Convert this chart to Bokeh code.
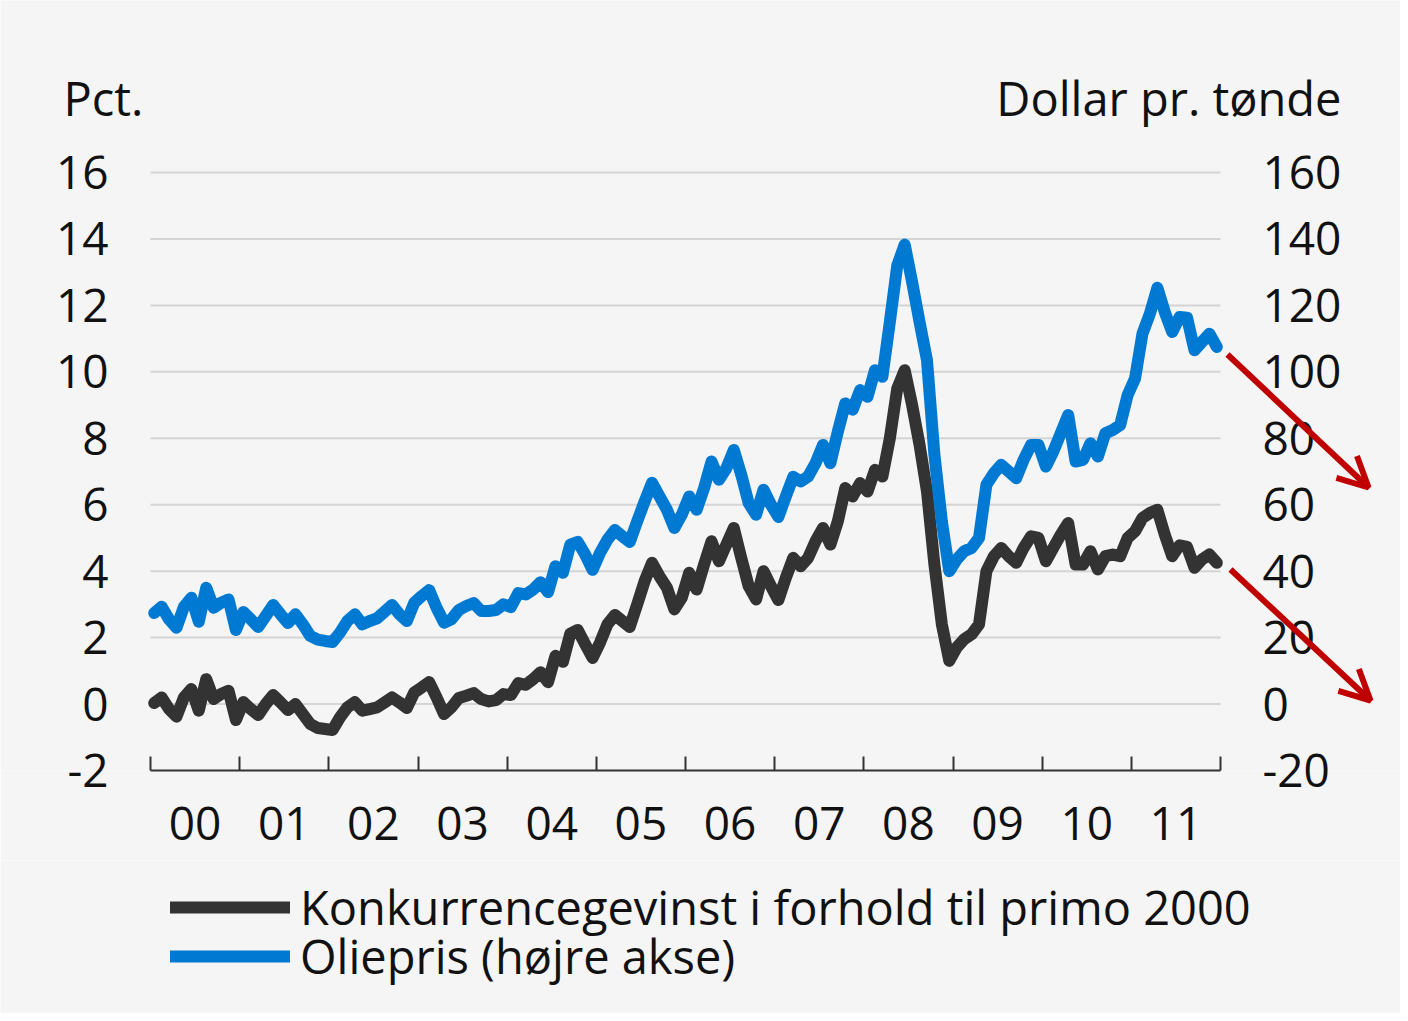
from bokeh.plotting import figure
from bokeh.layouts import column
from bokeh.models import (Range1d, LinearAxis, FixedTicker, Legend, LegendItem,
                          Label, Arrow, OpenHead)
from bokeh.embed import file_html
from bokeh.resources import INLINE

# ---- data (monthly, Jan 2000 - Dec 2011) ----
start_year = 2000
year_labels = ["00", "01", "02", "03", "04", "05", "06", "07", "08", "09", "10", "11"]

oil_price = [
    27.4, 29.3, 25.5, 23.0, 29.3, 32.0, 24.8, 35.0, 29.0, 30.5, 31.5, 22.3,
    27.7, 25.5, 23.2, 26.5, 29.8, 27.0, 24.4, 27.0, 24.0, 20.5, 19.4, 19.0,
    18.7, 21.5, 25.0, 27.0, 24.0, 25.0, 25.8, 27.8, 29.8, 27.0, 25.0, 30.5,
    32.5, 34.3, 29.0, 24.5, 25.5, 28.3, 29.5, 30.4, 28.0, 28.0, 28.3, 30.0,
    29.2, 33.4, 33.0, 34.5, 36.7, 33.7, 41.5, 39.5, 48.0, 48.8, 45.0, 40.4,
    45.5, 49.5, 52.4, 50.5, 48.8, 55.0, 61.0, 66.6, 62.5, 58.5, 53.0, 57.0,
    62.5, 58.5, 65.0, 73.0, 67.5, 71.0, 76.5, 69.0, 60.5, 57.0, 64.5, 60.0,
    56.3, 62.5, 68.4, 67.0, 68.5, 72.5, 78.0, 72.5, 82.0, 90.5, 88.6, 94.5,
    92.5, 100.5, 98.5, 115.0, 132.0, 138.3, 127.0, 115.0, 103.5, 75.0, 55.0, 40.0,
    43.5, 46.0, 47.0, 50.0, 66.0, 69.5, 72.0, 70.0, 68.0, 73.5, 78.0, 78.0,
    71.5, 76.0, 81.5, 87.0, 73.0, 73.5, 78.5, 74.5, 81.5, 82.5, 84.0, 93.0,
    98.0, 111.5, 117.5, 125.3, 118.0, 112.0, 116.5, 116.3, 106.5, 109.0, 111.5, 107.5,
]

competitive_gain = [
    0.03, 0.2, -0.15, -0.38, 0.2, 0.45, -0.2, 0.75, 0.15, 0.3, 0.4, -0.48,
    0.06, -0.15, -0.33, 0.0, 0.27, 0.05, -0.18, 0.0, -0.3, -0.6, -0.72, -0.75,
    -0.78, -0.4, -0.1, 0.06, -0.2, -0.15, -0.1, 0.05, 0.2, 0.05, -0.12, 0.35,
    0.5, 0.66, 0.2, -0.3, -0.1, 0.18, 0.25, 0.33, 0.15, 0.08, 0.12, 0.3,
    0.27, 0.63, 0.58, 0.75, 0.96, 0.66, 1.45, 1.27, 2.12, 2.23, 1.8, 1.39,
    1.85, 2.4, 2.68, 2.5, 2.32, 3.0, 3.7, 4.25, 3.85, 3.5, 2.85, 3.2,
    3.95, 3.45, 4.2, 4.9, 4.3, 4.8, 5.3, 4.4, 3.55, 3.15, 4.0, 3.55,
    3.13, 3.8, 4.4, 4.15, 4.4, 4.9, 5.3, 4.8, 5.5, 6.5, 6.25, 6.65,
    6.4, 7.05, 6.85, 8.0, 9.5, 10.05, 9.0, 7.8, 6.4, 4.2, 2.4, 1.3,
    1.7, 1.95, 2.1, 2.4, 4.0, 4.45, 4.7, 4.45, 4.25, 4.7, 5.05, 5.0,
    4.3, 4.7, 5.1, 5.45, 4.2, 4.2, 4.6, 4.05, 4.45, 4.5, 4.45, 5.0,
    5.2, 5.6, 5.75, 5.85, 5.1, 4.45, 4.78, 4.73, 4.1, 4.35, 4.5, 4.25,
]

left_ticks = [-2, 0, 2, 4, 6, 8, 10, 12, 14, 16]
right_ticks = [-20, 0, 20, 40, 60, 80, 100, 120, 140, 160]
series_labels = ["Konkurrencegevinst i forhold til primo 2000", "Oliepris (højre akse)"]

FONT = "Open Sans"
BG = "#f5f5f5"
BLUE = "#0079d2"
DARK = "#333333"
RED = "#c00000"
TXT = "#111111"
TICK_SIZE = "46px"
TEXT_SIZE = "47px"

n = len(oil_price)
t = [start_year + (i + 0.5) / 12 for i in range(n)]
n_years = len(year_labels)
year_mid = [start_year + k + 0.5 for k in range(n_years)]
year_edges = [start_year + k for k in range(n_years + 1)]

# ---- layout geometry (pixels) ----
W = 1400
DATA_LEFT, DATA_RIGHT = 150, 1220      # pixel extent of the 12 data years
DATA_TOP, DATA_BOTTOM = 172, 770       # pixel extent of the -2..16 range
px_per_year = (DATA_RIGHT - DATA_LEFT) / n_years
px_per_unit = (DATA_BOTTOM - DATA_TOP) / (left_ticks[-1] - left_ticks[0])
oil_scale = (right_ticks[-1] - right_ticks[0]) / (left_ticks[-1] - left_ticks[0])


def xd(px):   # pixel column -> year coordinate
    return start_year + (px - DATA_LEFT) / px_per_year


def yd(py):   # pixel row -> left-axis coordinate
    return left_ticks[0] + (DATA_BOTTOM - py) / px_per_unit


y_top = yd(0)

p = figure(frame_width=W, frame_height=DATA_BOTTOM, output_backend="svg",
           toolbar_location=None,
           x_range=Range1d(xd(0), xd(W)), y_range=Range1d(left_ticks[0], y_top),
           min_border_left=0, min_border_right=0, min_border_top=0,
           min_border_bottom=90)
p.extra_y_ranges = {"oil": Range1d(right_ticks[0],
                                   right_ticks[0] + (y_top - left_ticks[0]) * oil_scale)}
p.background_fill_color = BG
p.border_fill_color = BG
p.outline_line_color = None
p.xgrid.visible = False
p.ygrid.visible = False

# horizontal grid lines over the data years only
grid_vals = left_ticks[1:]
p.segment(x0=[year_edges[0]] * len(grid_vals), x1=[year_edges[-1]] * len(grid_vals),
          y0=grid_vals, y1=grid_vals, line_color="#d4d4d4", line_width=2, level="underlay")

# x axis
xa = p.xaxis[0]
xa.bounds = (year_edges[0], year_edges[-1])
xa.ticker = FixedTicker(ticks=year_mid, minor_ticks=year_edges)
xa.major_label_overrides = {m: lab for m, lab in zip(year_mid, year_labels)}
xa.major_tick_in = 0
xa.major_tick_out = 0
xa.minor_tick_in = 14
xa.minor_tick_out = 0
xa.minor_tick_line_color = DARK
xa.minor_tick_line_width = 2
xa.axis_line_color = DARK
xa.axis_line_width = 2
xa.major_label_text_font = FONT
xa.major_label_text_font_size = TICK_SIZE
xa.major_label_text_color = TXT
xa.major_label_standoff = 36

# left axis (labels drawn inside, right-aligned left of the data area)
ya = p.yaxis[0]
ya.ticker = FixedTicker(ticks=left_ticks)
ya.major_label_overrides = {v: str(v) for v in left_ticks}
ya.axis_line_color = None
ya.major_tick_line_color = None
ya.minor_tick_line_color = None
ya.major_label_text_font = FONT
ya.major_label_text_font_size = TICK_SIZE
ya.major_label_text_color = TXT
ya.major_label_standoff = -114

# right axis (labels drawn inside, right of the data area)
ra = LinearAxis(y_range_name="oil", ticker=FixedTicker(ticks=right_ticks))
ra.major_label_overrides = {v: str(v) for v in right_ticks}
ra.axis_line_color = None
ra.major_tick_line_color = None
ra.minor_tick_line_color = None
ra.major_label_text_font = FONT
ra.major_label_text_font_size = TICK_SIZE
ra.major_label_text_color = TXT
ra.major_label_standoff = 1256 - W
p.add_layout(ra, "right")

r_gain = p.line(t, competitive_gain, line_color=DARK, line_width=12,
                line_join="round", line_cap="round")
r_oil = p.line(t, oil_price, line_color=BLUE, line_width=12,
               line_join="round", line_cap="round", y_range_name="oil")

# axis titles
p.add_layout(Label(x=xd(63), y=yd(97), text="Pct.", text_font=FONT,
                   text_font_size=TEXT_SIZE, text_color=TXT, text_align="left",
                   text_baseline="middle"))
p.add_layout(Label(x=xd(1341), y=yd(97), text="Dollar pr. tønde", text_font=FONT,
                   text_font_size=TEXT_SIZE, text_color=TXT, text_align="right",
                   text_baseline="middle"))

# red arrows
for (x0, y0, x1, y1) in [(1227, 354, 1368, 487), (1230, 569, 1370, 700)]:
    p.add_layout(Arrow(x_start=xd(x0), y_start=yd(y0), x_end=xd(x1), y_end=yd(y1),
                       line_color=RED, line_width=6,
                       end=OpenHead(size=30, line_color=RED, line_width=6)))

# ---- legend strip ----
LEG_H = 153
leg = figure(frame_width=W, frame_height=LEG_H, output_backend="svg",
             toolbar_location=None,
             x_range=Range1d(0, 1), y_range=Range1d(0, 1),
             x_axis_type=None, y_axis_type=None, min_border=0)
leg.background_fill_color = BG
leg.border_fill_color = BG
leg.outline_line_color = None
leg.grid.visible = False
# same series; they fall outside this strip's ranges, only their legend samples show
s_gain = leg.line(t, competitive_gain, line_color=DARK, line_width=12, line_cap="round")
s_oil = leg.line(t, oil_price, line_color=BLUE, line_width=12, line_cap="round")

for label, rend, loc in [(series_labels[0], s_gain, (170, 74)),
                         (series_labels[1], s_oil, (170, 25))]:
    lg = Legend(items=[LegendItem(label=label, renderers=[rend])], location=loc)
    lg.glyph_width = 120
    lg.glyph_height = 40
    lg.label_standoff = 10
    lg.padding = 0
    lg.margin = 0
    lg.border_line_color = None
    lg.background_fill_alpha = 0
    lg.label_text_font = FONT
    lg.label_text_font_size = TEXT_SIZE
    lg.label_text_color = TXT
    leg.add_layout(lg)

layout = column(p, leg, spacing=0)
open("out.html", "w").write(file_html(layout, INLINE))
